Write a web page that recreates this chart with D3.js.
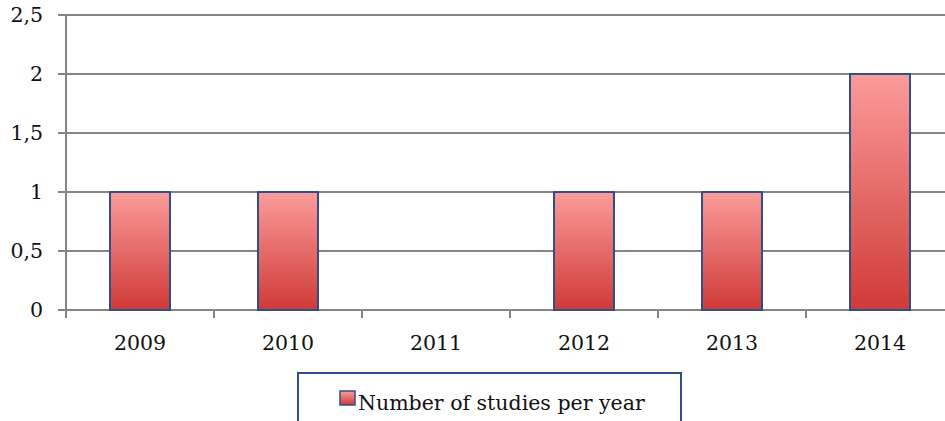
<!DOCTYPE html>
<html>
<head>
<meta charset="utf-8">
<script src="https://cdn.jsdelivr.net/npm/d3@7"></script>
<style>
  html, body { margin: 0; padding: 0; background: #fff; overflow: hidden; }
  svg { display: block; }
  text { font-family: "DejaVu Serif", serif; fill: #111; }
</style>
</head>
<body>
<svg id="chart" width="945" height="421"></svg>
<script>
const years = ["2009", "2010", "2011", "2012", "2013", "2014"];
const studies = [1, 1, 0, 1, 1, 2];
const yTicks = [0, 0.5, 1, 1.5, 2, 2.5];
const seriesName = "Number of studies per year";

const svg = d3.select("#chart");
const plot = { left: 66, right: 954, top: 15, bottom: 310 };

const x = d3.scaleBand().domain(years).range([plot.left, plot.right]).paddingInner(0).paddingOuter(0);
const y = d3.scaleLinear().domain([0, 2.5]).range([plot.bottom, plot.top]);
const barW = 60;

const defs = svg.append("defs");
const grad = defs.append("linearGradient").attr("id", "barFill")
  .attr("x1", 0).attr("y1", 0).attr("x2", 0).attr("y2", 1);
grad.append("stop").attr("offset", "0%").attr("stop-color", "#fb9c9a");
grad.append("stop").attr("offset", "100%").attr("stop-color", "#cf3a36");

const fmt = d => String(d).replace(".", ",");

// horizontal gridlines with short outward ticks
svg.append("g").selectAll("line").data(yTicks).join("line")
  .attr("x1", plot.left - 8).attr("x2", 945)
  .attr("y1", d => y(d)).attr("y2", d => y(d))
  .attr("stroke", "#858585").attr("stroke-width", 2);

// y axis labels
svg.append("g").selectAll("text").data(yTicks).join("text")
  .attr("x", 43).attr("y", d => y(d)).attr("dy", "0.36em")
  .attr("text-anchor", "end").attr("font-size", 20.5)
  .text(fmt);

// y axis line
svg.append("line")
  .attr("x1", plot.left).attr("x2", plot.left)
  .attr("y1", plot.top).attr("y2", plot.bottom + 8)
  .attr("stroke", "#858585").attr("stroke-width", 2);

// category boundary ticks
const bounds = years.slice(1).map(d => x(d));
svg.append("g").selectAll("line").data(bounds).join("line")
  .attr("x1", d => d).attr("x2", d => d)
  .attr("y1", plot.bottom).attr("y2", plot.bottom + 8)
  .attr("stroke", "#858585").attr("stroke-width", 2);

// bars
svg.append("g").selectAll("rect").data(years.map((yr, i) => ({ yr, v: studies[i] })).filter(d => d.v > 0))
  .join("rect")
  .attr("x", d => x(d.yr) + x.bandwidth() / 2 - barW / 2)
  .attr("y", d => y(d.v))
  .attr("width", barW)
  .attr("height", d => y(0) - y(d.v))
  .attr("fill", "url(#barFill)")
  .attr("stroke", "#2f4f8c").attr("stroke-width", 2);

// x labels
svg.append("g").selectAll("text").data(years).join("text")
  .attr("x", d => x(d) + x.bandwidth() / 2)
  .attr("y", 350)
  .attr("text-anchor", "middle").attr("font-size", 20.5)
  .text(d => d);

// legend
const lg = svg.append("g");
lg.append("rect").attr("x", 298).attr("y", 373).attr("width", 383).attr("height", 60)
  .attr("fill", "#fff").attr("stroke", "#2f4f8c").attr("stroke-width", 2);
lg.append("rect").attr("x", 340).attr("y", 391).attr("width", 15).attr("height", 14)
  .attr("fill", "url(#barFill)").attr("stroke", "#2f4f8c").attr("stroke-width", 1.5);
lg.append("text").attr("x", 358).attr("y", 410).attr("font-size", 20.5).text(seriesName);
</script>
</body>
</html>
